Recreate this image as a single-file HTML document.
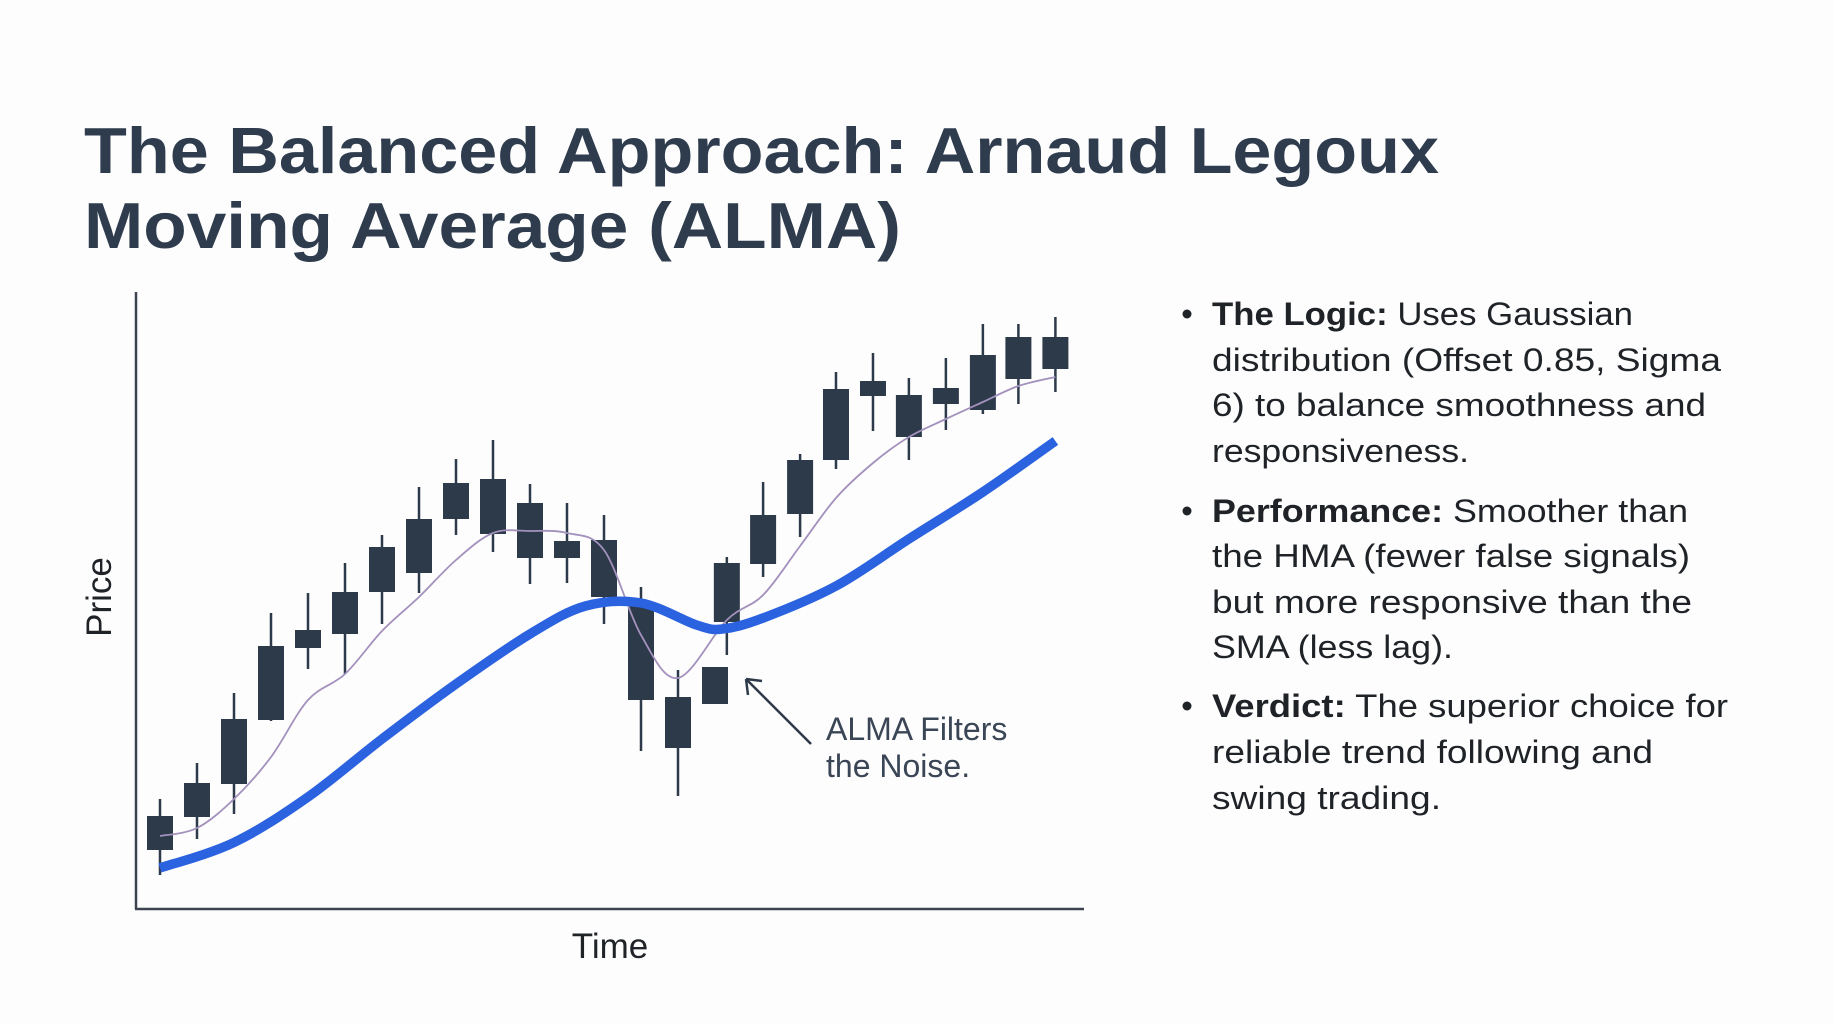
<!DOCTYPE html>
<html><head><meta charset="utf-8"><style>
html,body{margin:0;padding:0;background:#fdfdfd;}
svg{display:block;font-family:"Liberation Sans",sans-serif;}
</style></head><body>
<svg id="s" width="1834" height="1024" viewBox="0 0 1834 1024">
<rect width="1834" height="1024" fill="#fdfdfd"/>
<g fill="#2e3c4e" font-weight="bold" font-size="65">
<text x="84" y="173" textLength="1355" lengthAdjust="spacingAndGlyphs">The Balanced Approach: Arnaud Legoux</text>
<text x="84" y="248" textLength="817" lengthAdjust="spacingAndGlyphs">Moving Average (ALMA)</text>
</g>
<g id="chart"></g>
<g fill="#1f2328" font-size="32">
<circle cx="1187" cy="314" r="4.5"/>
<circle cx="1187" cy="511" r="4.5"/>
<circle cx="1187" cy="706" r="4.5"/>
<text x="1212" y="325" textLength="421" lengthAdjust="spacingAndGlyphs"><tspan font-weight="bold">The Logic:</tspan> Uses Gaussian</text>
<text x="1212" y="371" textLength="509" lengthAdjust="spacingAndGlyphs">distribution (Offset 0.85, Sigma</text>
<text x="1212" y="416" textLength="494" lengthAdjust="spacingAndGlyphs">6) to balance smoothness and</text>
<text x="1212" y="462" textLength="257" lengthAdjust="spacingAndGlyphs">responsiveness.</text>
<text x="1212" y="522" textLength="476" lengthAdjust="spacingAndGlyphs"><tspan font-weight="bold">Performance:</tspan> Smoother than</text>
<text x="1212" y="567" textLength="478" lengthAdjust="spacingAndGlyphs">the HMA (fewer false signals)</text>
<text x="1212" y="613" textLength="480" lengthAdjust="spacingAndGlyphs">but more responsive than the</text>
<text x="1212" y="658" textLength="241" lengthAdjust="spacingAndGlyphs">SMA (less lag).</text>
<text x="1212" y="717" textLength="516" lengthAdjust="spacingAndGlyphs"><tspan font-weight="bold">Verdict:</tspan> The superior choice for</text>
<text x="1212" y="763" textLength="441" lengthAdjust="spacingAndGlyphs">reliable trend following and</text>
<text x="1212" y="809" textLength="229" lengthAdjust="spacingAndGlyphs">swing trading.</text>
</g>
</svg>
<script>
const times=[0,1,2,3,4,5,6,7,8,9,10,11,12,13,14,15,15.32,16.3,17.3,18.27,19.27,20.24,21.24,22.24,23.2,24.2];
const bodyTop=[16.8,23.4,36.2,50.8,54,61.6,70.6,76.2,83.4,84.2,79.4,71.8,72,59.4,40.6,46.6,67.4,77,88,102.2,103.8,101,102.4,109,112.6,112.6];
const bodyBottom=[10,16.6,23.2,36,50.4,53.2,61.6,65.4,76.2,73.2,68.4,68.4,60.6,40,30.4,39.2,55.6,67.2,77.2,88,100.8,92.6,99.2,98,104.2,106.2];
const highs=[20.2,27.4,41.4,57.4,61.4,67.4,73,82.6,88.2,92,83.2,79.4,77,62.6,46,46.6,68.6,83.6,89.2,105.6,109.4,104.4,108.4,115.2,115.2,116.6];
const lows=[5,12.2,17.2,35.8,46.2,45.2,55.2,61.4,73,69.6,63.2,63.4,55.2,29.8,20.8,39.2,49,64.6,72.6,86.2,93.8,88,94,97.2,99.2,101.6];
const almaTimes=[0,2,4,6,8,10,11.5,13,14.5,15.2,16.3,18.27,20.24,22.24,24.2];
const almaValues=[6.4,11.5,20.6,32.2,43.2,53.2,58.8,59.4,55,54.2,56.4,62.8,72.2,81.6,91.8];
const fastTimes=[0,1,2,3,4,5,6,7,8,9,10,11,12,13,14,15.32,16.3,17.3,18.27,19.27,20.24,21.24,22.24,23.2,24.2];
const fastMaValues=[12.8,14.4,20.2,28.6,40,45.2,53.8,60.6,68,73.4,73.8,73.4,70,53,44.4,56,61,70.8,80.4,87.4,92.6,96.2,99.6,102.8,104.6];

const NS="http://www.w3.org/2000/svg";
const chart=document.getElementById('chart');
function xScale(t){return 160+37*t;}
function yScale(p){return 900-5*p;}
function mk(tag,attrs){const e=document.createElementNS(NS,tag);for(const k in attrs)e.setAttribute(k,attrs[k]);return e;}

const yAxis=mk('line',{x1:136,y1:292,x2:136,y2:909,stroke:'#3c4450','stroke-width':2.5});


chart.appendChild(yAxis);
const xAxis=mk('line',{x1:135,y1:909,x2:1084,y2:909,stroke:'#3c4450','stroke-width':2.5});


chart.appendChild(xAxis);

const yTitle=mk('text',{x:0,y:0,transform:'translate(111,597) rotate(-90)','text-anchor':'middle','font-size':35,fill:'#1f2328'});
yTitle.textContent='Price';


chart.appendChild(yTitle);
const xTitle=mk('text',{x:610,y:958,'text-anchor':'middle','font-size':35,fill:'#1f2328'});
xTitle.textContent='Time';


chart.appendChild(xTitle);

for(let i=0;i<times.length;i++){
  const g=mk('g',{});
  
  
  const cx=xScale(times[i]);
  const w=mk('line',{x1:cx,x2:cx,y1:yScale(highs[i]),y2:yScale(lows[i]),stroke:'#2d3a4a','stroke-width':2.5});
  
  
  g.appendChild(w);
  const top=yScale(bodyTop[i]),bot=yScale(bodyBottom[i]);
  const b=mk('rect',{x:cx-13,y:top,width:26,height:Math.max(2,bot-top),fill:'#2d3a4a'});
  
  
  g.appendChild(b);
  chart.appendChild(g);
}

function smoothPath(ts,vals){
  const pts=ts.map((t,i)=>[xScale(t),yScale(vals[i])]);
  let d='M'+pts[0][0]+','+pts[0][1];
  for(let i=0;i<pts.length-1;i++){
    const p0=pts[Math.max(0,i-1)],p1=pts[i],p2=pts[i+1],p3=pts[Math.min(pts.length-1,i+2)];
    const c1=[p1[0]+(p2[0]-p0[0])/6,p1[1]+(p2[1]-p0[1])/6];
    const c2=[p2[0]-(p3[0]-p1[0])/6,p2[1]-(p3[1]-p1[1])/6];
    d+=' C'+c1[0]+','+c1[1]+' '+c2[0]+','+c2[1]+' '+p2[0]+','+p2[1];
  }
  return d;
}
const fast=mk('path',{d:smoothPath(fastTimes,fastMaValues),fill:'none',stroke:'#a391bd','stroke-width':1.8});


chart.appendChild(fast);
const alma=mk('path',{d:smoothPath(almaTimes,almaValues),fill:'none',stroke:'#2a62e0','stroke-width':9.5,'stroke-linecap':'butt'});


chart.appendChild(alma);

const arrow=mk('g',{stroke:'#2d3a4a','stroke-width':2.5,fill:'none'});


arrow.appendChild(mk('line',{x1:811,y1:744,x2:746,y2:679}));
arrow.appendChild(mk('path',{d:'M746,679 L748,695 M746,679 L762,681'}));
chart.appendChild(arrow);
const ann=mk('text',{x:826,y:740,'font-size':32,fill:'#3a4656'});


const t1=mk('tspan',{x:826,y:740});t1.textContent='ALMA Filters';
const t2=mk('tspan',{x:826,y:777});t2.textContent='the Noise.';
ann.appendChild(t1);ann.appendChild(t2);
chart.appendChild(ann);
</script>
</body></html>
